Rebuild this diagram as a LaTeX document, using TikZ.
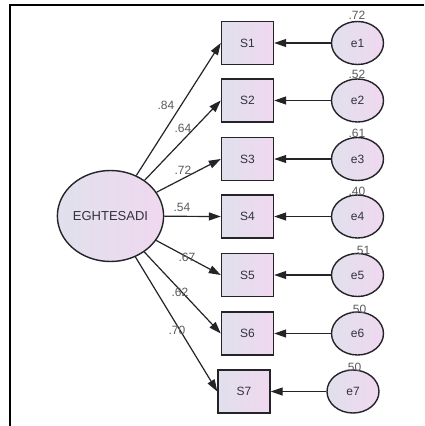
\documentclass[tikz,border=0pt]{standalone}
\usepackage{fontspec}
\setmainfont{Liberation Sans}
\usetikzlibrary{arrows.meta,shapes.geometric}
\definecolor{fillL}{RGB}{224,224,236}
\definecolor{fillR}{RGB}{240,216,240}
\definecolor{linec}{RGB}{35,35,40}
\definecolor{txtc}{RGB}{50,50,60}
\definecolor{numc}{RGB}{90,90,95}
\begin{document}
\begin{tikzpicture}[x=1pt,y=-1pt,
  obs/.style={rectangle, draw=linec, line width=1.4pt, minimum width=52pt, minimum height=43pt,
    inner sep=0pt, left color=fillL, right color=fillR, text=txtc, font=\fontsize{12}{14}\selectfont},
  err/.style={ellipse, draw=linec, line width=1.4pt, minimum width=52pt, minimum height=43pt,
    inner sep=0pt, left color=fillL, right color=fillR, text=txtc, font=\fontsize{12}{14}\selectfont},
  lat/.style={ellipse, draw=linec, line width=1.4pt, minimum width=106pt, minimum height=91pt,
    inner sep=0pt, left color=fillL, right color=fillR, text=txtc, font=\fontsize{13}{15}\selectfont},
  reg/.style={-{Triangle[length=12pt,width=8pt]}, line width=1.2pt, draw=linec},
  num/.style={inner sep=0pt, text=numc, font=\fontsize{12}{14}\selectfont}
]
\useasboundingbox (0,0) rectangle (424,426);
\fill[white] (0,0) rectangle (424,426);
% frame
\draw[line width=2pt, black] (10,426) -- (10,5) -- (424,5);

% latent
\node[lat] (eg) at (110.5,216) {EGHTESADI};

% observed
\node[obs] (s1) at (247.5,43) {S1};
\node[obs] (s2) at (247.5,100.5) {S2};
\node[obs] (s3) at (247.5,159) {S3};
\node[obs] (s4) at (247.5,216.5) {S4};
\node[obs] (s5) at (247.5,275) {S5};
\node[obs] (s6) at (247.5,333.5) {S6};
\node[obs] (s7) at (244,391.5) {S7};

% errors
\node[err] (e1) at (357.5,43) {e1};
\node[err] (e2) at (357.5,100.5) {e2};
\node[err] (e3) at (357.5,159) {e3};
\node[err] (e4) at (357.5,216.5) {e4};
\node[err] (e5) at (357.5,275) {e5};
\node[err] (e6) at (357.5,333.5) {e6};
\node[err] (e7) at (353,391.5) {e7};

% loadings
\foreach \i in {1,...,7} {
  \draw[reg] (eg) -- (s\i.west);
  \draw[reg] (e\i) -- (s\i);
}

% loading labels
\node[num] (l1) at (166,105) {.84};
\node[num] (l2) at (183,128) {.64};
\node[num] (l3) at (183,170) {.72};
\node[num] (l4) at (182,207) {.54};
\node[num] (l5) at (187,257) {.67};
\node[num] (l6) at (180,292) {.62};
\node[num] (l7) at (177,330) {.70};

% squared multiple correlations
\node[num] (r1) at (357,15) {.72};
\node[num] (r2) at (357,74) {.52};
\node[num] (r3) at (357,133) {.61};
\node[num] (r4) at (357,191) {.40};
\node[num] (r5) at (362,250) {.51};
\node[num] (r6) at (358,309) {.50};
\node[num] (r7) at (353,367) {.50};
\end{tikzpicture}
\end{document}
